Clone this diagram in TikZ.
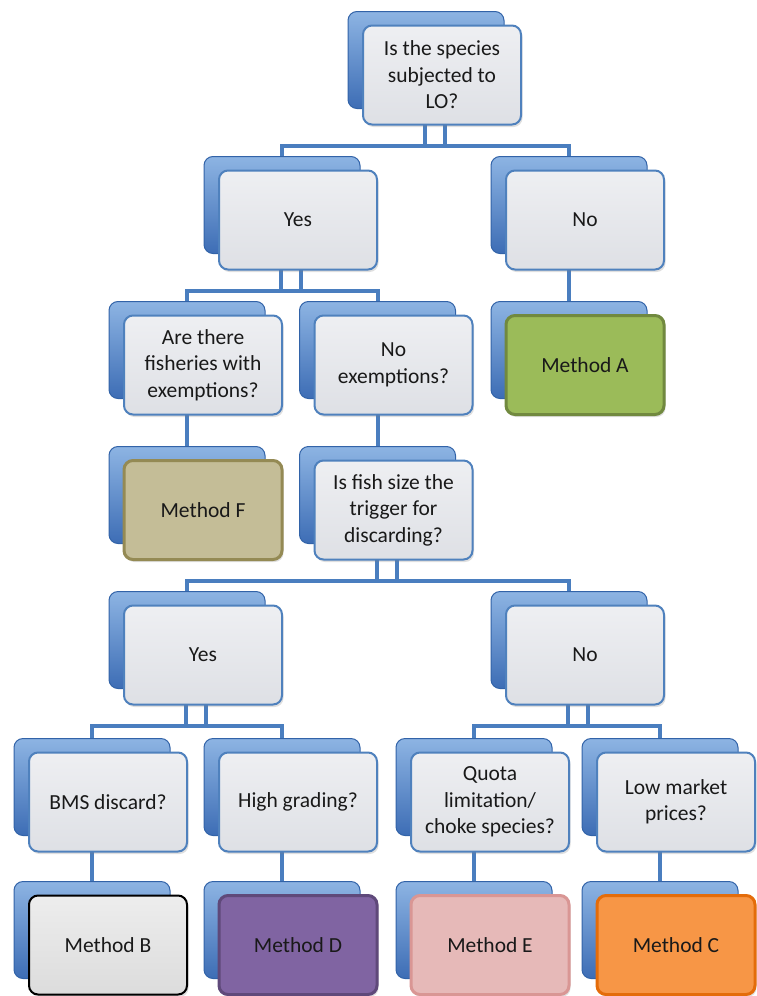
\documentclass[tikz,border=0pt]{standalone}
\usepackage{fontspec}
\setmainfont{Carlito}
\usetikzlibrary{calc,shadows}
\pgfdeclarelayer{bg}
\pgfsetlayers{bg,main}
\definecolor{boxblue}{HTML}{4F81BD}
\definecolor{connblue}{HTML}{4A7EBF}
\definecolor{backA}{HTML}{8DB4E3}
\definecolor{backB}{HTML}{3D6DB5}
\definecolor{backedge}{HTML}{3263A8}
\definecolor{frontA}{HTML}{EEEFF2}
\definecolor{frontB}{HTML}{DEE0E5}
\definecolor{HTML9BBB59}{HTML}{9BBB59}
\definecolor{HTML71893F}{HTML}{71893F}
\definecolor{HTMLC4BD97}{HTML}{C4BD97}
\definecolor{HTML948A54}{HTML}{948A54}
\definecolor{HTMLEDEDED}{HTML}{EDEDED}
\definecolor{HTMLDCDCDC}{HTML}{DCDCDC}
\definecolor{HTML8064A2}{HTML}{8064A2}
\definecolor{HTML5F497A}{HTML}{5F497A}
\definecolor{HTMLE6B9B8}{HTML}{E6B9B8}
\definecolor{HTMLD99694}{HTML}{D99694}
\definecolor{HTMLF79646}{HTML}{F79646}
\definecolor{HTMLE46C0A}{HTML}{E46C0A}
\tikzset{
  frontbox/.style={draw=boxblue, line width=2pt, rounded corners=9pt,
    minimum width=158pt, minimum height=99pt, top color=frontA, bottom color=frontB,
    align=center, text=black!90, font=\fontsize{21.5}{26.5}\selectfont,
    drop shadow={opacity=0.25, shadow xshift=1.5pt, shadow yshift=-2.5pt}},
  backbox/.style={draw=backedge, line width=1pt, rounded corners=9pt,
    minimum width=156pt, minimum height=97pt, top color=backA, bottom color=backB},
  conn/.style={draw=connblue, line width=4pt},
  methodA/.style={top color=HTML9BBB59, bottom color=HTML9BBB59, draw=HTML71893F, line width=3pt},
  methodF/.style={top color=HTMLC4BD97, bottom color=HTMLC4BD97, draw=HTML948A54, line width=3pt},
  methodB/.style={top color=HTMLEDEDED, bottom color=HTMLDCDCDC, draw=black, line width=2pt},
  methodD/.style={top color=HTML8064A2, bottom color=HTML8064A2, draw=HTML5F497A, line width=3pt},
  methodE/.style={top color=HTMLE6B9B8, bottom color=HTMLE6B9B8, draw=HTMLD99694, line width=3pt},
  methodC/.style={top color=HTMLF79646, bottom color=HTMLF79646, draw=HTMLE46C0A, line width=3pt},
}
% #1 name, #2 centre x, #3 top y of front box, #4 text, #5 extra style
\newcommand\stk[5]{%
  \node[backbox] (#1-b) at (#2-16,#3+35) {};
  \node[frontbox,#5] (#1) at (#2,#3+50) {#4};
}
\begin{document}
\begin{tikzpicture}[x=1pt,y=-1pt]
\useasboundingbox (0,0) rectangle (756,996);

\stk{q}{442}{25}{Is the species\\subjected to\\LO?}{}
\stk{yes1}{298}{170}{Yes}{}
\stk{no1}{585}{170}{No}{}
\stk{fish}{203}{315}{Are there\\fisheries with\\exemptions?}{}
\stk{noex}{393.5}{315}{No\\exemptions?}{}
\stk{mA}{585}{315}{Method A}{methodA}
\stk{mF}{203}{460}{Method F}{methodF}
\stk{size}{393.5}{460}{Is fish size the\\trigger for\\discarding?}{}
\stk{yes2}{203}{605}{Yes}{}
\stk{no2}{585}{605}{No}{}
\stk{bms}{108}{752}{BMS discard?}{}
\stk{high}{298}{752}{High grading?}{}
\stk{quota}{490}{752}{Quota\\limitation/\\choke species?}{}
\stk{low}{676}{752}{Low market\\prices?}{}
\stk{mB}{108}{895}{Method B}{methodB}
\stk{mD}{298}{895}{Method D}{methodD}
\stk{mE}{490}{895}{Method E}{methodE}
\stk{mC}{676}{895}{Method C}{methodC}

\begin{pgfonlayer}{bg}
  \fill[white] (0,0) rectangle (756,996);
  % branching connectors
  \foreach \p/\l/\r in {q/yes1/no1, yes1/fish/noex, size/yes2/no2, yes2/bms/high, no2/quota/low}{
    \coordinate (\p-bus) at ($(\p.south)+(0,20)$);
    \draw[conn] ($(\p.south)+(-17,-4)$) -- ($(\p.south)+(-17,20)$);
    \draw[conn] ($(\p.south)+(3,-4)$) -- ($(\p.south)+(3,20)$);
    \draw[conn] (\l-b.north) |- (\p-bus) -| (\r-b.north);
  }
  % single connectors
  \foreach \a/\b in {no1/mA, fish/mF, noex/size, bms/mB, high/mD, quota/mE, low/mC}{
    \draw[conn] (\a-b.south) -- (\b-b.north);
  }
\end{pgfonlayer}
\end{tikzpicture}
\end{document}
